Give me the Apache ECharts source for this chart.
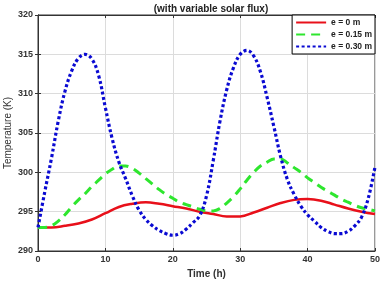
<!DOCTYPE html>
<html><head><meta charset="utf-8">
<script src="https://cdn.jsdelivr.net/npm/echarts@6/dist/echarts.min.js"></script>
<style>html,body{margin:0;padding:0;background:#fff}#c{width:383px;height:281px}</style>
</head><body><div id="c"></div>
<script>
const hoursBlue = [0,1,2,3,4,5,6,7,8,9,10,11,12,13,14,15,16,17,18,19,20,21,22,23,24,25,26,27,28,29,30,31,32,33,34,35,36,37,38,39,40,41,42,43,44,45,46,47,48,49,50];
const tempBlue = [293.0,297.5,301.8,306.5,310.3,312.9,314.5,315.0,314.4,312.3,308.2,304.3,301.3,299.2,297.0,295.2,294.0,293.2,292.6,292.2,292.0,292.2,292.8,293.6,294.5,297.0,301.5,306.5,310.5,313.3,315.0,315.5,314.8,312.8,309.5,305.8,302.0,299.1,297.2,295.7,294.6,293.8,293.0,292.5,292.2,292.2,292.5,293.2,294.3,296.7,300.7];
const hoursGreen = [0,1,2,3,4,5,6,7,8,9,10,11,12,13,14,15,16,17,18,19,20,21,22,23,24,25,26,27,28,29,30,31,32,33,34,35,36,37,38,39,40,41,42,43,44,45,46,47,48,49,50];
const tempGreen = [293.0,293.0,293.2,293.8,294.6,295.6,296.5,297.3,298.2,299.0,299.8,300.4,300.8,300.8,300.5,299.9,299.2,298.5,297.8,297.2,296.7,296.2,295.9,295.6,295.3,295.1,295.1,295.4,296.1,296.9,297.9,299.0,300.0,300.8,301.3,301.7,301.7,301.2,300.6,300.0,299.3,298.7,298.1,297.6,297.1,296.6,296.2,295.8,295.5,295.3,295.1];
const hoursRed = [0,2,4,6,8,10,12,14,16,18,20,22,24,26,28,30,32,34,36,38,40,42,44,46,48,50];
const tempRed = [293.0,293.0,293.2,293.5,294.0,294.8,295.6,296.0,296.2,296.0,295.7,295.4,295.0,294.7,294.4,294.4,294.9,295.5,296.1,296.5,296.6,296.4,295.9,295.4,295.0,294.7];
const seriesNames = ['e = 0 m','e = 0.15 m','e = 0.30 m'];
const xTicks = [0,10,20,30,40,50];
const yTicks = [290,295,300,305,310,315,320];

const zip = (a,b)=>a.map((v,i)=>[v,b[i]]);
const FF = 'Liberation Sans, Arial, sans-serif';
const lblStyle = {color:'#333',fontWeight:'bold',fontSize:9,fontFamily:FF};
const chart = echarts.init(document.getElementById('c'),null,{renderer:'canvas'});
chart.setOption({
  animation:false,
  title:{text:'(with variable solar flux)',left:206,top:-1,textAlign:'center',
    textStyle:{fontSize:10,fontWeight:'bold',color:'#222',fontFamily:FF}},
  grid:{left:38,right:8,top:15,bottom:30,show:true,borderColor:'#333',borderWidth:1,backgroundColor:'#fff',
    outerBoundsMode:'none',containLabel:false},
  legend:{right:8,top:15,orient:'vertical',itemGap:3,itemWidth:30,itemHeight:8,
    backgroundColor:'#fff',borderColor:'#000',borderWidth:1,padding:[3,3,3,3],borderRadius:0,
    itemStyle:{opacity:0},
    textStyle:{fontSize:8.5,fontWeight:'bold',color:'#222',fontFamily:FF},
    data:seriesNames},
  xAxis:[{type:'value',min:0,max:50,interval:10,position:'bottom',
    name:'Time (h)',nameLocation:'middle',nameGap:17,
    nameTextStyle:{fontSize:10,fontWeight:'bold',color:'#333',fontFamily:FF},
    axisLine:{show:true,lineStyle:{color:'#333'}},axisTick:{inside:true,length:3,lineStyle:{color:'#333'}},
    axisLabel:Object.assign({margin:4},lblStyle),
    splitLine:{show:true,lineStyle:{color:'#dcdcdc',width:1}}},
   {type:'value',min:0,max:50,interval:10,position:'top',axisLine:{show:true,lineStyle:{color:'#333'}},
    axisTick:{inside:true,length:3,lineStyle:{color:'#333'}},axisLabel:{show:false},splitLine:{show:false}}],
  yAxis:[{type:'value',min:290,max:320,interval:5,
    name:'Temperature (K)',nameLocation:'middle',nameGap:25,nameRotate:90,nameMoveOverlap:false,
    nameTextStyle:{fontSize:10,color:'#333',fontFamily:FF},
    axisLine:{show:true,lineStyle:{color:'#333'}},axisTick:{inside:true,length:3,lineStyle:{color:'#333'}},
    axisLabel:Object.assign({margin:5},lblStyle),
    splitLine:{show:true,lineStyle:{color:'#dcdcdc',width:1}}},
   {type:'value',min:290,max:320,interval:5,position:'right',axisLine:{show:true,lineStyle:{color:'#333'}},
    axisTick:{inside:true,length:3,lineStyle:{color:'#333'}},axisLabel:{show:false},splitLine:{show:false}}],
  series:[
    {name:seriesNames[0],type:'line',data:zip(hoursRed,tempRed),smooth:0.4,symbol:'none',z:3,
      lineStyle:{color:'#e8101a',width:2.5},itemStyle:{color:'#e8101a'}},
    {name:seriesNames[1],type:'line',data:zip(hoursGreen,tempGreen),smooth:0.4,symbol:'none',z:4,
      lineStyle:{color:'#2ee62e',width:3,type:[9,6]},itemStyle:{color:'#2ee62e'}},
    {name:seriesNames[2],type:'line',data:zip(hoursBlue,tempBlue),smooth:0.4,symbol:'none',z:5,
      lineStyle:{color:'#0a0ad2',width:3.2,type:[3,2.5]},itemStyle:{color:'#0a0ad2'}}
  ]
});
</script></body></html>
